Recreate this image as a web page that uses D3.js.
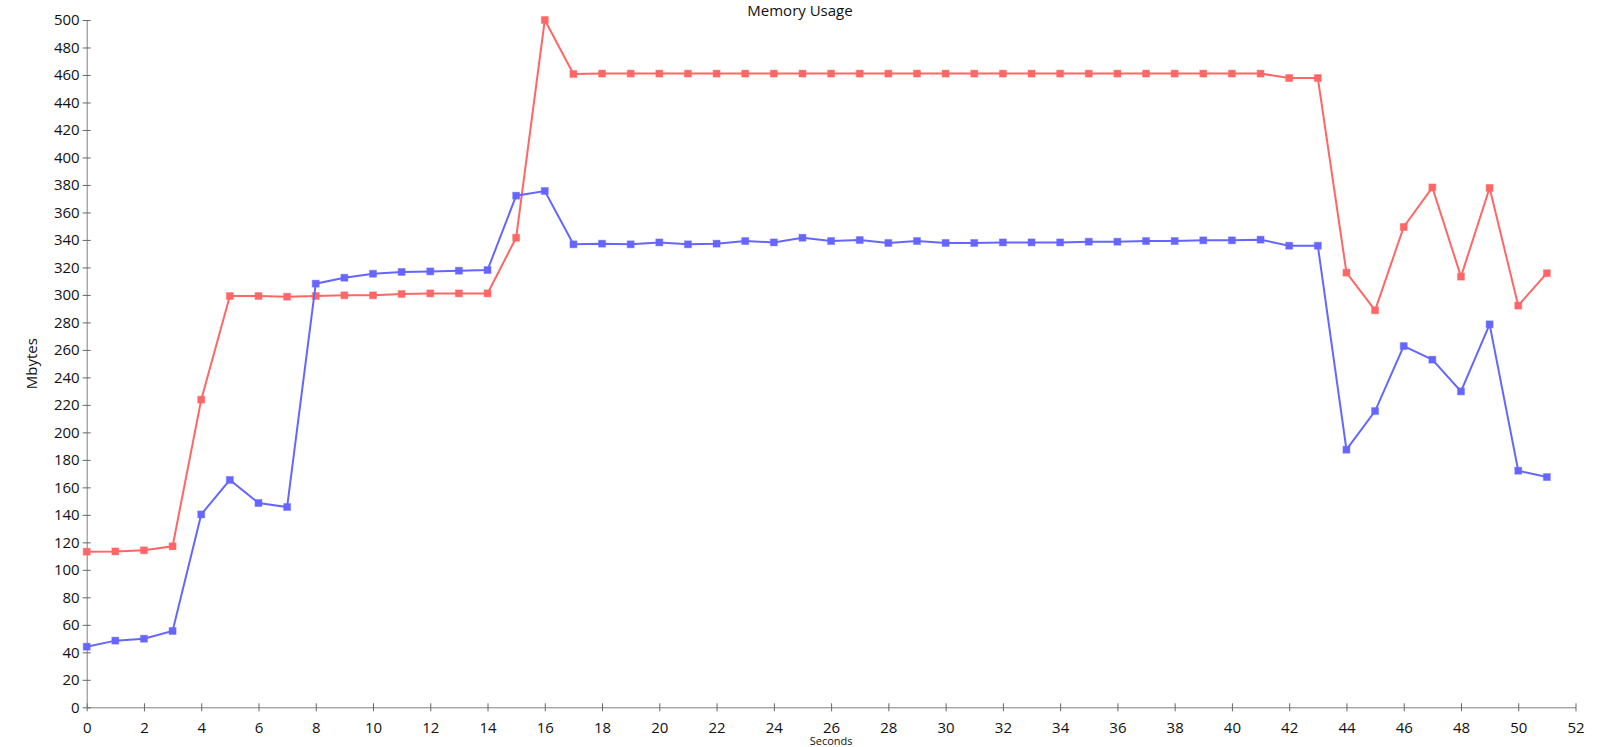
<!DOCTYPE html>
<html>
<head>
<meta charset="utf-8">
<script src="https://cdn.jsdelivr.net/npm/d3@7"></script>
<style>
  html, body { margin: 0; padding: 0; background: #fff; overflow: hidden; }
  svg { display: block; font-family: "Open Sans", "Noto Sans", sans-serif; }
</style>
</head>
<body>
<svg id="chart" width="1600" height="747"></svg>
<script>
const seconds = d3.range(0, 52);
const seriesRed = [113.2, 113.4, 114.2, 117.1, 223.8, 299.2, 299.2, 298.7, 299.2, 299.7,
  299.7, 300.7, 301.1, 301.1, 301.1, 341.6, 500, 460.7, 461, 461,
  461, 461, 461, 461, 461, 461, 461, 461, 461, 461,
  461, 461, 461, 461, 461, 461, 461, 461, 461, 461,
  461, 461, 457.8, 457.8, 316.2, 288.8, 349.4, 378.2, 313.3, 377.8,
  292.2, 315.8];
const seriesBlue = [44.1, 48.5, 49.9, 55.5, 140.3, 165.4, 148.6, 145.7, 308.2, 312.5,
  315.4, 316.7, 317.1, 317.6, 318.1, 372.2, 375.6, 336.8, 337.3, 336.8,
  338.2, 336.8, 337.3, 339.2, 338.2, 341.6, 339.2, 339.9, 337.8, 339.2,
  337.8, 337.8, 338.2, 338.2, 338.2, 338.7, 338.7, 339.2, 339.2, 339.7,
  339.7, 340.2, 335.8, 335.8, 187.4, 215.5, 262.8, 252.9, 229.8, 278.6,
  172.1, 167.5];
const xTicks = d3.range(0, 53, 2);
const yTicks = d3.range(0, 501, 20);
const titleText = "Memory Usage";
const xLabel = "Seconds";
const yLabel = "Mbytes";

const W = 1600, H = 747;
const margin = {left: 86.7, top: 20, right: 24.5, bottom: 39.7};
const svg = d3.select("#chart");

const x = d3.scaleLinear().domain([0, 52]).range([margin.left, W - margin.right]);
const y = d3.scaleLinear().domain([0, 500]).range([H - margin.bottom, margin.top]);

// axes
const gx = svg.append("g").attr("transform", `translate(0,${y(0)})`)
  .call(d3.axisBottom(x).tickValues(xTicks).tickFormat(d3.format("d")).tickSizeInner(4).tickSizeOuter(0).tickPadding(11));
gx.selectAll(".tick line").attr("y1", -4).attr("y2", 4).attr("stroke", "#666");
gx.select(".domain").attr("stroke", "#808080");
gx.selectAll(".tick text").attr("font-size", 15).attr("fill", "#111").attr("font-family", "'Open Sans', sans-serif");

const gy = svg.append("g").attr("transform", `translate(${x(0)},0)`)
  .call(d3.axisLeft(y).tickValues(yTicks).tickFormat(d3.format("d")).tickSizeInner(4).tickSizeOuter(0).tickPadding(3));
gy.selectAll(".tick line").attr("x1", 4).attr("x2", -4).attr("stroke", "#666");
gy.select(".domain").attr("stroke", "#808080");
gy.selectAll(".tick text").attr("font-size", 15).attr("fill", "#111").attr("font-family", "'Open Sans', sans-serif");

// labels
svg.append("text").attr("x", 800).attr("y", 16).attr("text-anchor", "middle")
  .attr("font-size", 15).attr("fill", "#111").text(titleText);
svg.append("text").attr("x", (x(0) + x(52)) / 2).attr("y", 745).attr("text-anchor", "middle")
  .attr("font-size", 11).attr("fill", "#111").text(xLabel);
svg.append("text").attr("transform", `translate(37,${(y(0) + y(500)) / 2}) rotate(-90)`)
  .attr("text-anchor", "middle").attr("font-size", 15).attr("fill", "#111").text(yLabel);

// series
const series = [
  {values: seriesRed, color: "#ff6666"},
  {values: seriesBlue, color: "#6666ff"}
];
const line = d3.line().x((d, i) => x(seconds[i])).y(d => y(d));
series.forEach(s => {
  svg.append("path").datum(s.values).attr("fill", "none")
    .attr("stroke", s.color).attr("stroke-width", 2).attr("d", line);
  svg.append("g").selectAll("rect").data(s.values).join("rect")
    .attr("x", (d, i) => x(seconds[i]) - 3.5).attr("y", d => y(d) - 3.5)
    .attr("width", 7).attr("height", 7)
    .attr("fill", s.color).attr("stroke", s.color).attr("stroke-opacity", 0.4).attr("stroke-width", 1);
});
</script>
</body>
</html>
